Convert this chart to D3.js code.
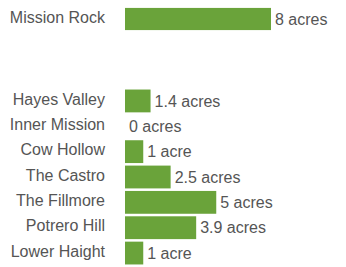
<!DOCTYPE html>
<html>
<head>
<meta charset="utf-8">
<script src="https://cdn.jsdelivr.net/npm/d3@7"></script>
<style>
  body { margin: 0; background: #fff; }
  svg { display: block; }
  text { font-family: "Liberation Sans", Arial, sans-serif; font-size: 16px; }
</style>
</head>
<body>
<svg id="svg" width="346" height="267"></svg>
<script>
// featured site, drawn apart at the top
var topNames = ['Mission Rock'];
var topAcres = [8];
var topLabels = ['8 acres'];

// other neighborhoods
var names = ['Hayes Valley', 'Inner Mission', 'Cow Hollow', 'The Castro',
             'The Fillmore', 'Potrero Hill', 'Lower Haight'];
var acres = [1.4, 0, 1, 2.5, 5, 3.9, 1];
var labels = ['1.4 acres', '0 acres', '1 acre', '2.5 acres', '5 acres', '3.9 acres', '1 acre'];

var svg = d3.select('#svg');
var left = 125;
var nameX = 105;
var green = '#6aa33a';

var x = d3.scaleLinear().domain([0, 8]).range([left, left + 146]);

var yTop = d3.scaleBand().domain(topNames).range([7, 31]).padding(0.04);
var y = d3.scaleBand().domain(names).range([87, 267]).padding(0.1);

function drawGroup(cats, vals, labs, yScale) {
    var g = svg.append('g');
    var rows = cats.map(function(c, i) { return { name: c, v: vals[i], lab: labs[i] }; });

    g.selectAll('rect')
      .data(rows)
      .enter()
      .append('rect')
      .attr('x', x(0))
      .attr('y', function(d) { return yScale(d.name); })
      .attr('width', function(d) { return x(d.v) - x(0); })
      .attr('height', yScale.bandwidth())
      .attr('fill', green);

    g.selectAll('text.name')
      .data(rows)
      .enter()
      .append('text')
      .attr('class', 'name')
      .attr('x', nameX)
      .attr('y', function(d) { return yScale(d.name) + yScale.bandwidth() / 2 - 2; })
      .attr('dy', '0.35em')
      .attr('text-anchor', 'end')
      .attr('fill', '#555')
      .text(function(d) { return d.name; });

    g.selectAll('text.val')
      .data(rows)
      .enter()
      .append('text')
      .attr('class', 'val')
      .attr('x', function(d) { return x(d.v) + 4; })
      .attr('y', function(d) { return yScale(d.name) + yScale.bandwidth() / 2; })
      .attr('dy', '0.35em')
      .attr('fill', '#555')
      .text(function(d) { return d.lab; });
}

drawGroup(topNames, topAcres, topLabels, yTop);
drawGroup(names, acres, labels, y);
</script>
</body>
</html>
